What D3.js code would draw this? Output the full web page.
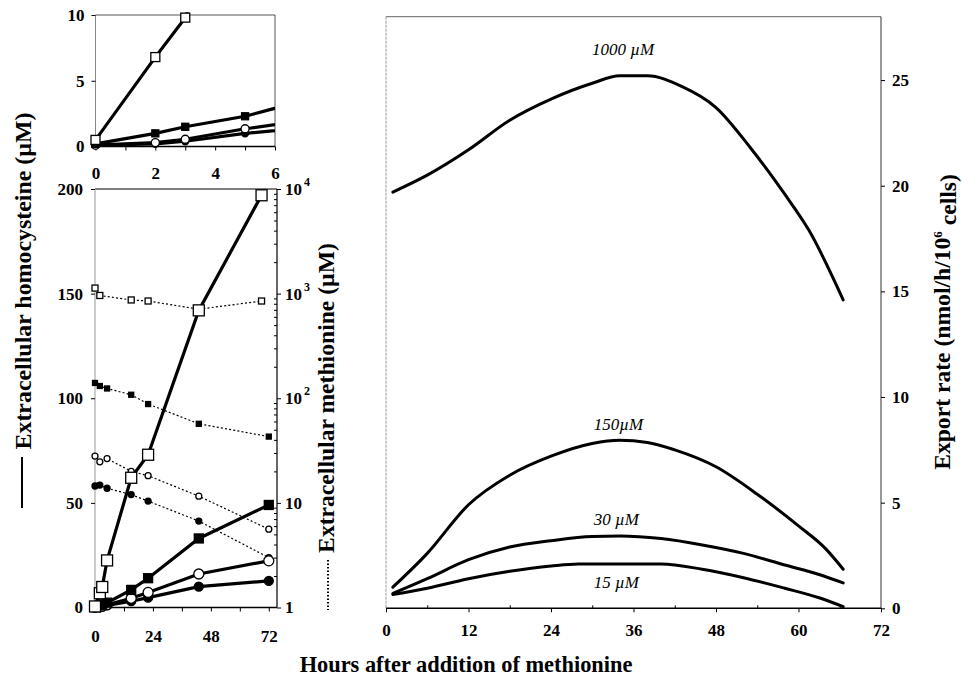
<!DOCTYPE html>
<html>
<head>
<meta charset="utf-8">
<script src="https://cdn.jsdelivr.net/npm/d3@7"></script>
<style>
  body { margin: 0; background: #fff; }
  svg { display: block; }
  text { font-family: "Liberation Serif", "Times New Roman", serif; fill: #000; }
</style>
</head>
<body>
<svg id="chart" width="962" height="681"></svg>
<script>
// ---- Extracellular homocysteine (µM) vs hours, per starting methionine level ----
const hcy1000 = [[0,0.5],[2,6.8],[3,9.8],[5,22.5],[15,62],[22,73],[43,142],[69,197]];
const hcy150  = [[0,0.2],[2,1.0],[3,1.5],[5,2.3],[15,8.4],[22,14],[43,33],[72,49]];
const hcy30   = [[0,0.1],[2,0.3],[3,0.55],[5,1.35],[15,4.4],[22,7.2],[43,16],[72,22.3]];
const hcy15   = [[0,0.1],[2,0.2],[3,0.4],[5,1.0],[15,3.0],[22,4.7],[43,10],[72,12.7]];

// ---- Extracellular methionine (µM, log scale) ----
const met1000 = [[0,1130],[2,960],[15,870],[22,850],[43,710],[69,850]];
const met150  = [[0,140],[2,131],[5,124],[15,108],[22,88],[43,57],[72,43]];
const met30   = [[0,28],[2,24.7],[5,26.5],[15,20],[22,18.2],[43,11.6],[72,5.6]];
const met15   = [[0,14.5],[2,14.8],[5,13.8],[15,12],[22,10.4],[43,6.7],[72,3.0]];

// ---- Export rate (nmol/h/10^6 cells) ----
const rate1000 = [[1,19.7],[6,20.5],[12,21.7],[18,23.1],[24,24.1],[30,24.85],[34,25.2],[38,25.2],[43,24.7],[48,23.7],[53,21.8],[58,19.6],[61.5,17.9],[66.5,14.6]];
const rate150  = [[1,1.0],[6,2.6],[12,4.9],[18,6.3],[24,7.2],[30,7.8],[34,7.95],[38,7.85],[42,7.5],[48,6.7],[54,5.4],[60,3.9],[64,2.8],[66.5,1.85]];
const rate30   = [[1,0.7],[6,1.4],[12,2.3],[18,2.9],[24,3.2],[30,3.4],[34,3.42],[40,3.3],[46,3.0],[52,2.6],[58,2.05],[63,1.6],[66.5,1.2]];
const rate15   = [[1,0.65],[6,0.95],[12,1.4],[18,1.75],[24,2.0],[28,2.1],[40,2.1],[46,1.85],[52,1.45],[58,0.95],[63,0.5],[66.5,0.08]];
const rateLabels = ["1000 \u00B5M", "150\u00B5M", "30 \u00B5M", "15 \u00B5M"];

// tick labels
const insetXTicks = [0, 2, 4, 6];
const insetYTicks = [0, 5, 10];
const mainXTicks  = [0, 24, 48, 72];
const mainYTicks  = [0, 50, 100, 150, 200];
const logTicks    = [1, 10, 100, 1000, 10000];
const rateXTicks  = [0, 12, 24, 36, 48, 60, 72];
const rateYTicks  = [0, 5, 10, 15, 20, 25];

const svg = d3.select("#chart");

// scales
const xIn = d3.scaleLinear().domain([0, 6]).range([95.5, 275]);
const yIn = d3.scaleLinear().domain([0, 10]).range([146.5, 15]);
const xM  = d3.scaleLinear().domain([0, 75.4]).range([95, 277]);
const yM  = d3.scaleLinear().domain([0, 200]).range([607.5, 189]);
const yL  = d3.scaleLog().domain([1, 1e4]).range([607.5, 189]);
const xR  = d3.scaleLinear().domain([0, 72]).range([386, 881]);
const yR  = d3.scaleLinear().domain([0, 28]).range([608.3, 16.7]);

const LBL = "17px";

function styleAxis(g, size = LBL) {
  g.select(".domain").remove();
  g.selectAll(".tick line").attr("stroke", "#000").attr("stroke-width", 1);
  g.selectAll(".tick text").attr("font-size", size).attr("font-weight", "bold")
    .attr("font-family", '"Liberation Serif", "Times New Roman", serif');
}

function marker(g, shape, size, cx, cy) {
  const h = size / 2;
  if (shape === "sqO" || shape === "sqF") {
    g.append("rect").attr("x", cx - h).attr("y", cy - h).attr("width", size).attr("height", size)
      .attr("fill", shape === "sqF" ? "#000" : "#fff").attr("stroke", "#000").attr("stroke-width", 1.3);
  } else {
    g.append("circle").attr("cx", cx).attr("cy", cy).attr("r", h)
      .attr("fill", shape === "ciF" ? "#000" : "#fff").attr("stroke", "#000").attr("stroke-width", 1.3);
  }
}

// ================= Inset: first 6 hours =================
const inset = svg.append("g");
inset.append("clipPath").attr("id", "clipInset").append("rect")
  .attr("x", xIn(0)).attr("y", yIn(10.2)).attr("width", xIn(6) - xIn(0)).attr("height", yIn(0) - yIn(10.2) + 2);

// frame
inset.append("line").attr("x1", xIn(0)).attr("x2", xIn(6)).attr("y1", yIn(10)).attr("y2", yIn(10)).attr("stroke", "#555").attr("stroke-width", 1.2);
inset.append("line").attr("x1", xIn(6)).attr("x2", xIn(6)).attr("y1", yIn(10)).attr("y2", yIn(0)).attr("stroke", "#555").attr("stroke-width", 1);
inset.append("line").attr("x1", xIn(0)).attr("x2", xIn(0)).attr("y1", yIn(10)).attr("y2", yIn(0)).attr("stroke", "#888").attr("stroke-width", 1);
inset.append("line").attr("x1", xIn(0)).attr("x2", xIn(6)).attr("y1", yIn(0)).attr("y2", yIn(0)).attr("stroke", "#000").attr("stroke-width", 1.3);

inset.append("g").attr("transform", `translate(0,${yIn(0)})`)
  .call(d3.axisBottom(xIn).tickValues(d3.range(0, 7, 1)).tickSize(4).tickFormat(""))
  .call(styleAxis);
inset.append("g").attr("transform", `translate(0,${yIn(0) + 8})`)
  .call(d3.axisBottom(xIn).tickValues(insetXTicks).tickSize(0).tickPadding(12).tickFormat(d3.format("d")))
  .call(styleAxis);
inset.append("g").attr("transform", `translate(${xIn(0)},0)`)
  .call(d3.axisLeft(yIn).tickValues(insetYTicks).tickSize(4).tickPadding(7))
  .call(styleAxis);

const insetSeries = [
  { data: hcy15, shape: "ciF", size: 7 },
  { data: hcy30, shape: "ciO", size: 8 },
  { data: hcy150, shape: "sqF", size: 7 },
  { data: hcy1000, shape: "sqO", size: 9 }
];
const lineIn = d3.line().x(d => xIn(d[0])).y(d => yIn(d[1]));
insetSeries.forEach(s => {
  inset.append("path").attr("d", lineIn(s.data)).attr("fill", "none").attr("stroke", "#000")
    .attr("stroke-width", 3.2).attr("clip-path", "url(#clipInset)");
});
insetSeries.forEach(s => {
  const mg = inset.append("g");
  s.data.filter(d => d[0] <= 6 && d[1] <= 10.2).forEach(d => marker(mg, s.shape, s.size, xIn(d[0]), yIn(d[1])));
});

// ================= Main left panel: 0-72 hours =================
const main = svg.append("g");

main.append("line").attr("x1", xM(0)).attr("x2", xM(75.4)).attr("y1", yM(200)).attr("y2", yM(200)).attr("stroke", "#000").attr("stroke-width", 1.2);
main.append("line").attr("x1", xM(0)).attr("x2", xM(0)).attr("y1", yM(200)).attr("y2", yM(0)).attr("stroke", "#999").attr("stroke-width", 1);
main.append("line").attr("x1", xM(75.4)).attr("x2", xM(75.4)).attr("y1", yM(200)).attr("y2", yM(0)).attr("stroke", "#000").attr("stroke-width", 1.2);
main.append("line").attr("x1", xM(0)).attr("x2", xM(75.4)).attr("y1", yM(0)).attr("y2", yM(0)).attr("stroke", "#000").attr("stroke-width", 1.3);

main.append("g").attr("transform", `translate(0,${yM(0)})`)
  .call(d3.axisBottom(xM).tickValues(d3.range(0, 73, 12)).tickSize(4).tickFormat(""))
  .call(styleAxis);
main.append("g").attr("transform", `translate(0,${yM(0) + 10})`)
  .call(d3.axisBottom(xM).tickValues(mainXTicks).tickSize(0).tickPadding(12).tickFormat(d3.format("d")))
  .call(styleAxis);
main.append("g").attr("transform", `translate(${xM(0)},0)`)
  .call(d3.axisLeft(yM).tickValues(mainYTicks).tickSize(4).tickPadding(8))
  .call(styleAxis);

// right log axis: major ticks outward, minor ticks inward
const rightX = xM(75.4);
const minorLog = [];
[1, 10, 100, 1000].forEach(dec => d3.range(2, 10).forEach(m => minorLog.push(dec * m)));
main.append("g").attr("transform", `translate(${rightX},0)`)
  .call(d3.axisRight(yL).tickValues(minorLog).tickSize(-3).tickFormat(""))
  .call(styleAxis);
const logAxis = main.append("g").attr("transform", `translate(${rightX},0)`)
  .call(d3.axisRight(yL).tickValues(logTicks).tickSize(4).tickPadding(4).tickFormat(""))
  .call(styleAxis);
logAxis.selectAll(".tick text").each(function(d) {
  const t = d3.select(this).attr("font-size", LBL).attr("text-anchor", "start");
  const e = Math.round(Math.log10(d));
  if (e === 0) { t.text("1"); }
  else if (e === 1) { t.text("10"); }
  else {
    t.append("tspan").text("10");
    t.append("tspan").attr("dy", "-0.75em").attr("dx", "2").attr("font-size", "12px").text(e);
  }
});

const lineM = d3.line().x(d => xM(d[0])).y(d => yM(d[1]));
const lineL = d3.line().x(d => xM(d[0])).y(d => yL(d[1]));

const metSeries = [
  { data: met1000, shape: "sqO", size: 6 },
  { data: met150, shape: "sqF", size: 5 },
  { data: met30, shape: "ciO", size: 6 },
  { data: met15, shape: "ciF", size: 6 }
];
metSeries.forEach(s => {
  main.append("path").attr("d", lineL(s.data)).attr("fill", "none").attr("stroke", "#000")
    .attr("stroke-width", 1.2).attr("stroke-dasharray", "2,2.2");
  const mg = main.append("g");
  s.data.forEach(d => marker(mg, s.shape, s.size, xM(d[0]), yL(d[1])));
});

const hcySeries = [
  { data: hcy15, shape: "ciF", size: 9 },
  { data: hcy30, shape: "ciO", size: 10 },
  { data: hcy150, shape: "sqF", size: 9 },
  { data: hcy1000, shape: "sqO", size: 11 }
];
hcySeries.forEach(s => {
  main.append("path").attr("d", lineM(s.data)).attr("fill", "none").attr("stroke", "#000").attr("stroke-width", 3.2);
});
hcySeries.forEach(s => {
  const mg = main.append("g");
  s.data.forEach(d => marker(mg, s.shape, s.size, xM(d[0]), yM(d[1])));
});

// ================= Right panel: export rate =================
const right = svg.append("g");
right.append("line").attr("x1", xR(0)).attr("x2", xR(72)).attr("y1", yR(28)).attr("y2", yR(28)).attr("stroke", "#666").attr("stroke-width", 1);
right.append("line").attr("x1", xR(0)).attr("x2", xR(0)).attr("y1", yR(28)).attr("y2", yR(0)).attr("stroke", "#999").attr("stroke-width", 1).attr("stroke-dasharray", "3,1");
right.append("line").attr("x1", xR(72)).attr("x2", xR(72)).attr("y1", yR(28)).attr("y2", yR(0)).attr("stroke", "#333").attr("stroke-width", 1);
right.append("line").attr("x1", xR(0)).attr("x2", xR(72)).attr("y1", yR(0)).attr("y2", yR(0)).attr("stroke", "#000").attr("stroke-width", 1.4);

right.append("g").attr("transform", `translate(0,${yR(0)})`)
  .call(d3.axisBottom(xR).tickValues(d3.range(6, 72, 12)).tickSize(-3).tickFormat(""))
  .call(styleAxis);
right.append("g").attr("transform", `translate(0,${yR(0)})`)
  .call(d3.axisBottom(xR).tickValues(rateXTicks).tickSize(4).tickPadding(12).tickFormat(d3.format("d")))
  .call(styleAxis);
right.append("g").attr("transform", `translate(${xR(72)},0)`)
  .call(d3.axisRight(yR).tickValues(rateYTicks).tickSize(4).tickPadding(7))
  .call(styleAxis);

const lineR = d3.line().x(d => xR(d[0])).y(d => yR(d[1])).curve(d3.curveMonotoneX);
[rate1000, rate150, rate30, rate15].forEach(s => {
  right.append("path").attr("d", lineR(s)).attr("fill", "none").attr("stroke", "#000")
    .attr("stroke-width", 3).attr("stroke-linecap", "round");
});

// curve labels, placed by their data coordinates (hour, rate)
const rateLabelPos = [[34.5, 26.2], [33.8, 8.45], [33.5, 3.95], [33.5, 0.95]];
rateLabels.forEach((t, i) => {
  right.append("text").attr("x", xR(rateLabelPos[i][0])).attr("y", yR(rateLabelPos[i][1]))
    .attr("text-anchor", "middle").attr("font-style", "italic").attr("font-size", "17px").text(t);
});

// ================= Axis titles =================
function fitText(sel, target) {
  const len = sel.node().getComputedTextLength();
  const fs = parseFloat(sel.attr("font-size"));
  sel.attr("font-size", (fs * target / len).toFixed(2) + "px");
}

const hcyTitle = svg.append("text").attr("transform", "translate(31,281) rotate(-90)")
  .attr("text-anchor", "middle").attr("font-weight", "bold").attr("font-size", "20px")
  .text("Extracellular homocysteine (\u00B5M)");
fitText(hcyTitle, 337);
svg.append("line").attr("x1", 22).attr("x2", 22).attr("y1", 457).attr("y2", 508).attr("stroke", "#000").attr("stroke-width", 2);

const metTitle = svg.append("text").attr("transform", "translate(334,398) rotate(-90)")
  .attr("text-anchor", "middle").attr("font-weight", "bold").attr("font-size", "20px")
  .text("Extracellular methionine (\u00B5M)");
fitText(metTitle, 310);
svg.append("line").attr("x1", 328).attr("x2", 328).attr("y1", 560).attr("y2", 610)
  .attr("stroke", "#000").attr("stroke-width", 2).attr("stroke-dasharray", "1.5,2");

const rateTitle = svg.append("text").attr("transform", "translate(950,322) rotate(-90)")
  .attr("text-anchor", "middle").attr("font-weight", "bold").attr("font-size", "20px");
rateTitle.append("tspan").text("Export rate (nmol/h/10");
rateTitle.append("tspan").attr("dy", "-0.6em").attr("font-size", "13px").text("6");
rateTitle.append("tspan").attr("dy", "0.6em").text(" cells)");
fitText(rateTitle, 297);

const xTitle = svg.append("text").attr("x", 466).attr("y", 672)
  .attr("text-anchor", "middle").attr("font-weight", "bold").attr("font-size", "20px")
  .text("Hours after addition of methionine");
fitText(xTitle, 333);
</script>
</body>
</html>
